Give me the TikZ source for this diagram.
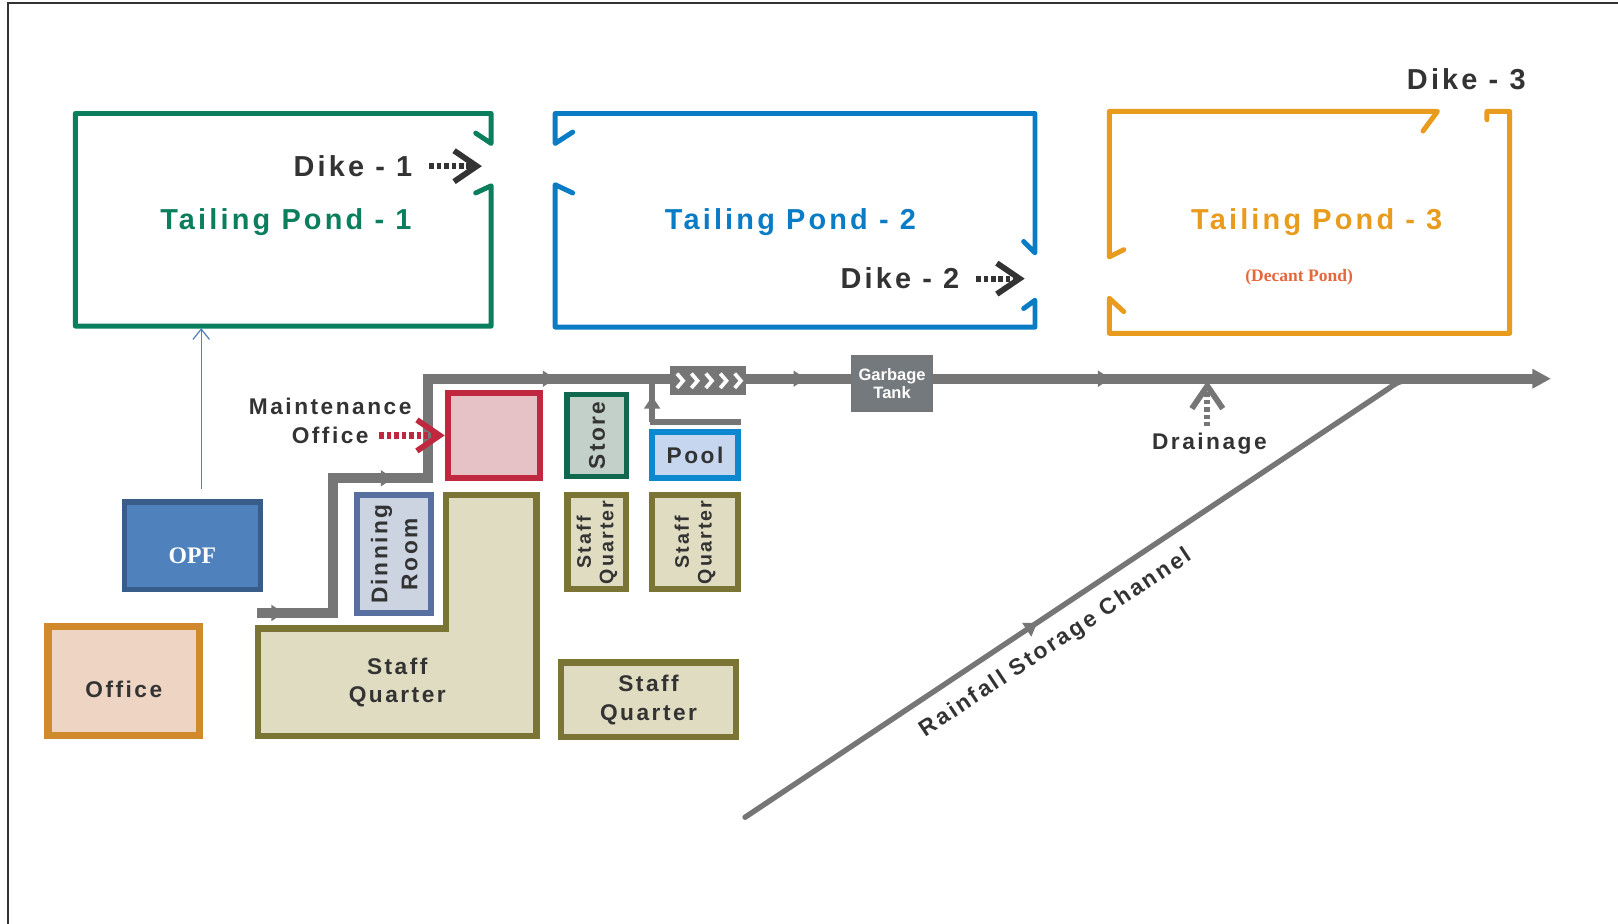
\documentclass[tikz,border=0pt]{standalone}
\usepackage{fontspec}
\setmainfont{Liberation Sans}
\newfontfamily\widesans[LetterSpace=11]{Liberation Sans}
\newfontfamily\romanfont{Liberation Serif}
\usetikzlibrary{arrows.meta,positioning}
\definecolor{pondgreen}{HTML}{0B7E5E}
\definecolor{pondblue}{HTML}{0A7CC6}
\definecolor{pondorange}{HTML}{E89B1C}
\definecolor{inkgray}{HTML}{333333}
\definecolor{roadgray}{HTML}{767676}
\definecolor{mntred}{HTML}{C0283F}
\definecolor{mntpink}{HTML}{E6C1C6}
\definecolor{storegreen}{HTML}{10694E}
\definecolor{storefill}{HTML}{C3D0CA}
\definecolor{poolblue}{HTML}{0B88D0}
\definecolor{poolfill}{HTML}{C5D6EE}
\definecolor{dineblue}{HTML}{5870A0}
\definecolor{dinefill}{HTML}{CCD4E1}
\definecolor{olive}{HTML}{7A7534}
\definecolor{olivefill}{HTML}{E0DCC1}
\definecolor{opffill}{HTML}{4F81BD}
\definecolor{opfedge}{HTML}{385D8A}
\definecolor{officeedge}{HTML}{D08A2C}
\definecolor{officefill}{HTML}{EDD4C3}
\definecolor{decant}{HTML}{E4683C}
\definecolor{tankgray}{HTML}{74797D}
\begin{document}
\begin{tikzpicture}[x=0.5pt,y=-0.5pt,
  pond/.style={line width=2.4pt,line join=round,line cap=round},
  pondname/.style={font=\fontsize{14}{16}\selectfont\widesans\bfseries},
  dikename/.style={font=\fontsize{14}{16}\selectfont\widesans\bfseries,text=inkgray,inner sep=1pt},
  dikearrow/.style={inkgray,line width=3pt,dash pattern=on 2.2pt off 1.4pt,shorten <=7pt,-{Straight Barb[length=11pt,width=15pt,line width=2.8pt]}},
  mntarrow/.style={mntred,line width=3pt,dash pattern=on 2.2pt off 1.4pt,shorten <=4pt,-{Straight Barb[length=11pt,width=15pt,line width=2.8pt]}},
  drnarrow/.style={roadgray,line width=3pt,dash pattern=on 2.2pt off 1.4pt,shorten <=2pt,-{Straight Barb[length=11pt,width=15pt,line width=2.8pt]}},
  opfarrow/.style={opffill,line width=0.6pt,shorten <=5pt,-{Straight Barb[length=5pt,width=8pt]}},
  road/.style={roadgray,line width=4.8pt},
  lane/.style={roadgray,line width=3pt},
  channel/.style={roadgray,line width=2.6pt,line cap=round},
  room/.style={draw,line width=3pt,inner sep=0pt,text=inkgray,align=center,font=\fontsize{11}{13.5}\selectfont\widesans\bfseries},
  smalltext/.style={font=\fontsize{11}{13}\selectfont\widesans\bfseries,text=inkgray,inner sep=1pt},
  flowtick/.pic={\fill[roadgray] (-6,-8) -- (6,0) -- (-6,8) -- cycle;}
]
\useasboundingbox (0,0) rectangle (1568,895);
\draw[inkgray,line width=1.2pt] (8,895) -- (8,3) -- (1568,3);

\draw[pond,pondgreen] (461,129) -- (476,139) -- (476,110) -- (73,110) -- (73,316) -- (476,316) -- (476,180) -- (461,187);
\draw[pond,pondblue] (555,128) -- (538,139) -- (538,110) -- (1003,110) -- (1003,245) -- (992,234);
\draw[pond,pondblue] (555,187) -- (538,179) -- (538,317) -- (1003,317) -- (1003,291) -- (992,299);
\draw[pond,pondorange] (1089,242) -- (1075,249) -- (1075,108) -- (1393,108) -- (1379,127);
\draw[pond,pondorange] (1089,302) -- (1075,289) -- (1075,323) -- (1463,323) -- (1463,108) -- (1441,108) -- (1441,116);

\node[pondname,text=pondgreen] (tp1) at (277,215) {Tailing Pond - 1};
\node[pondname,text=pondblue] (tp2) at (766,215) {Tailing Pond - 2};
\node[pondname,text=pondorange] (tp3) at (1276,215) {Tailing Pond - 3};
\node[text=decant,font=\fontsize{8.5}{10}\selectfont\romanfont\bfseries] (dcp) at (1259,269) {(Decant Pond)};

\node[dikename,anchor=east] (dk1) at (402,161) {Dike - 1};
\node[dikename,anchor=east] (dk2) at (932,270) {Dike - 2};
\node[dikename] (dk3) at (1421,77) {Dike - 3};
\coordinate (gap1) at (467,161);
\coordinate (gap2) at (993,270);
\draw[dikearrow] (dk1.east) -- (gap1);
\draw[dikearrow] (dk2.east) -- (gap2);

\draw[road,-{Triangle[length=9pt,width=9pt]}] (249,594) -- (323,594) -- (323,463.5) -- (415,463.5) -- (415,367) -- (1503,367);
\draw[lane] (630,409) -- (718,409);
\draw[lane] (632,409) -- (632,367);
\pic at (269,594) {flowtick};
\pic at (375,463.5) {flowtick};
\pic at (532,367) {flowtick};
\pic at (775,367) {flowtick};
\pic at (1070,367) {flowtick};
\pic[rotate=90] at (632,390) {flowtick};

\draw[channel] (722,792) -- node[pos=0.46,sloped,below=6pt,smalltext] (rsc) {Rainfall Storage Channel} (1345,377) .. controls (1356,369) .. (1380,367);
\pic[rotate=33.7] at (1000,607) {flowtick};

\node[fill=roadgray,minimum width=37pt,minimum height=14pt,inner sep=0pt] (chev) at (686,369) {};
\draw[white,line width=1.8pt] (656,362) -- (662,369) -- (656,376) (670,362) -- (676,369) -- (670,376)
  (684,362) -- (690,369) -- (684,376) (698,362) -- (704,369) -- (698,376) (712,362) -- (718,369) -- (712,376);
\node[fill=tankgray,draw=roadgray,line width=1pt,minimum width=39pt,minimum height=26.5pt,inner sep=0pt,text=white,align=center,font=\fontsize{8}{8.7}\selectfont\bfseries] (gbg) at (864.5,372) {Garbage\\Tank};

\node[smalltext] (drn) at (1172,430) {Drainage};
\coordinate (drj) at (1170,369);
\draw[drnarrow] (drn.north -| drj) -- (drj);

\node[room,draw=mntred,fill=mntpink,minimum width=44.5pt,minimum height=41pt] (maint) at (478.5,422) {};
\node[smalltext] (mtxt) at (320,394) {Maintenance};
\node[smalltext,below=3.5pt of mtxt] (otxt) {Office};
\draw[mntarrow] (otxt.east) -- (otxt.east -| maint.west);

\node[room,draw=storegreen,fill=storefill,line width=2.5pt,rotate=90,minimum width=39.5pt,minimum height=29pt] (store) at (578.5,422) {Store};
\node[room,draw=poolblue,fill=poolfill,minimum width=41.5pt,minimum height=22pt] (pool) at (673.5,441) {Pool};
\node[room,draw=dineblue,fill=dinefill,rotate=90,minimum width=57pt,minimum height=36pt,font=\fontsize{11}{14.5}\selectfont\widesans\bfseries] (dine) at (382,537) {Dinning\\Room};
\node[room,draw=olive,fill=olivefill,rotate=90,minimum width=45.5pt,minimum height=28.5pt,font=\fontsize{9.5}{11}\selectfont\widesans\bfseries] (sq1) at (578.5,525.5) {Staff\\Quarter};
\node[room,draw=olive,fill=olivefill,rotate=90,minimum width=45.5pt,minimum height=41.5pt,font=\fontsize{9.5}{11}\selectfont\widesans\bfseries] (sq2) at (673.5,525.5) {Staff\\Quarter};
\node[room,draw=olive,fill=olivefill,minimum width=84.5pt,minimum height=36pt,font=\fontsize{11}{14}\selectfont\widesans\bfseries] (sq3) at (628.5,678) {Staff\\Quarter};
\draw[olive,fill=olivefill,line width=3pt] (250,609) -- (432,609) -- (432,480) -- (520,480) -- (520,713) -- (250,713) -- cycle;
\node[room,draw=none] (sqL) at (385,661) {Staff\\Quarter};

\node[draw=opfedge,fill=opffill,line width=2.5pt,minimum width=66pt,minimum height=42.5pt] (opf) at (186.5,529) {};
\node[text=white,font=\fontsize{11.5}{13}\selectfont\romanfont\bfseries] (opft) at ([yshift=-5pt]opf.center) {OPF};
\node[room,draw=officeedge,fill=officefill,line width=3.5pt,minimum width=73.5pt,minimum height=52.5pt] (office) at (120,660) {};
\node[room,draw=none] (officet) at ([yshift=-4pt]office.center) {Office};
\coordinate (p1s) at (195,318);
\draw[opfarrow] (opf.north -| p1s) -- (p1s);
\end{tikzpicture}
\end{document}
